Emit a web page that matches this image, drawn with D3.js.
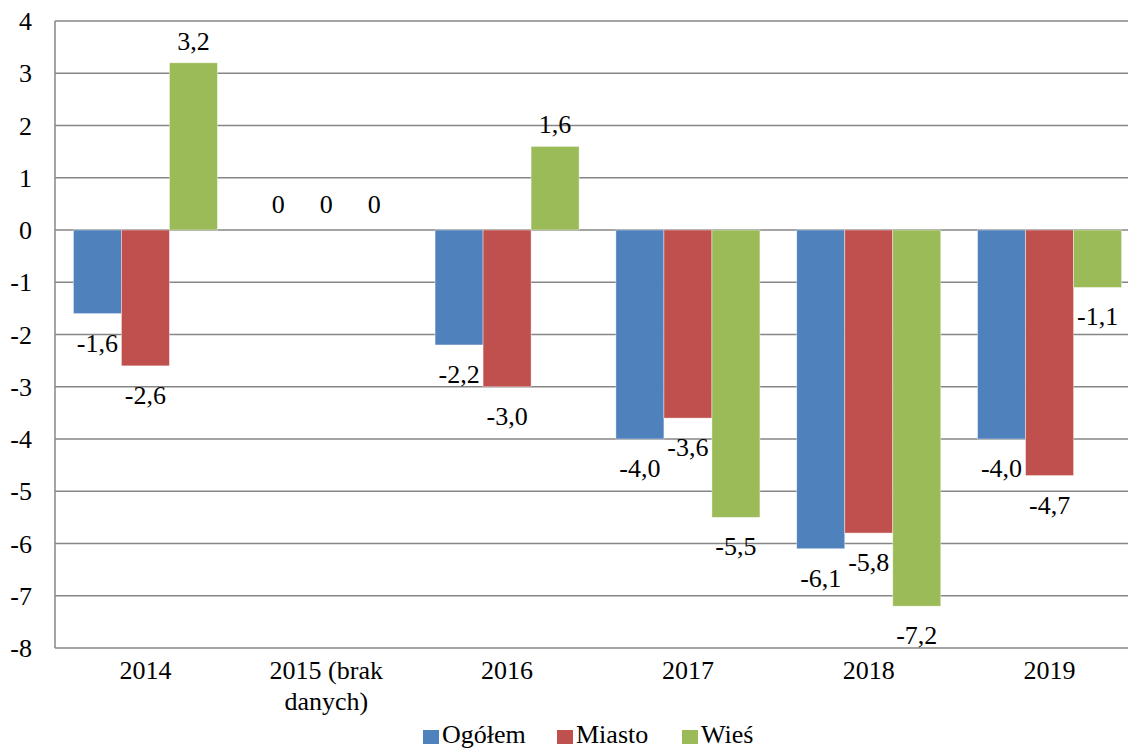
<!DOCTYPE html>
<html>
<head>
<meta charset="utf-8">
<script src="https://cdn.jsdelivr.net/npm/d3@7"></script>
<style>
  body { margin: 0; background: #fff; }
</style>
</head>
<body>
<div id="chart"></div>
<script>
const categories = ["2014", "2015 (brak danych)", "2016", "2017", "2018", "2019"];
const seriesNames = ["Ogółem", "Miasto", "Wieś"];
const ogolem = [-1.6, 0, -2.2, -4.0, -6.1, -4.0];
const miasto = [-2.6, 0, -3.0, -3.6, -5.8, -4.7];
const wies = [3.2, 0, 1.6, -5.5, -7.2, -1.1];
const colors = ["#4F81BD", "#C0504D", "#9BBB59"];
const yTicks = [4, 3, 2, 1, 0, -1, -2, -3, -4, -5, -6, -7, -8];

const width = 1128, height = 751;
const fontSize = 26;
const font = "'Liberation Serif', Tinos, 'Times New Roman', serif";

// plot area runs a bit past the right edge, like the original crop
const margin = { left: 55, right: -12, top: 21, bottom: 103 };

const svg = d3.select("#chart").append("svg")
  .attr("width", width)
  .attr("height", height)
  .style("font-family", font);

const x0 = d3.scaleBand()
  .domain(categories)
  .range([margin.left, width - margin.right])
  .paddingInner(0.2035)
  .paddingOuter(0.1018);

const x1 = d3.scaleBand()
  .domain(seriesNames)
  .range([0, x0.bandwidth()]);

const y = d3.scaleLinear()
  .domain([-8, 4])
  .range([height - margin.bottom, margin.top]);

const plotRight = width - margin.right;

function txt(sel) {
  return sel.style("font-family", font)
    .style("font-size", fontSize + "px")
    .attr("fill", "#000");
}

// gridlines
svg.append("g")
  .selectAll("line")
  .data(yTicks)
  .enter().append("line")
  .attr("x1", margin.left)
  .attr("x2", plotRight)
  .attr("y1", d => y(d))
  .attr("y2", d => y(d))
  .attr("stroke", "#868686")
  .attr("stroke-width", 1.5);

// left axis line
svg.append("line")
  .attr("x1", margin.left).attr("x2", margin.left)
  .attr("y1", y(4)).attr("y2", y(-8))
  .attr("stroke", "#868686")
  .attr("stroke-width", 1.5);

// y labels
svg.append("g")
  .selectAll("text")
  .data(yTicks)
  .enter().append("text")
  .attr("x", 32)
  .attr("y", d => y(d) + 9)
  .attr("text-anchor", "end")
  .call(txt)
  .text(d => d);

const rows = categories.map((c, i) => ({
  cat: c,
  values: [ogolem[i], miasto[i], wies[i]].map((v, j) => ({ key: seriesNames[j], value: v, idx: j }))
}));

const groups = svg.append("g")
  .selectAll("g")
  .data(rows)
  .enter().append("g")
  .attr("transform", d => "translate(" + x0(d.cat) + ",0)");

groups.selectAll("rect")
  .data(d => d.values)
  .enter().append("rect")
  .attr("x", d => x1(d.key))
  .attr("width", x1.bandwidth())
  .attr("y", d => y(Math.max(0, d.value)))
  .attr("height", d => Math.abs(y(d.value) - y(0)))
  .attr("fill", d => colors[d.idx])
  .attr("stroke", "#fff")
  .attr("stroke-opacity", 0.5)
  .attr("stroke-width", 0.8);

function fmt(v) {
  if (v === 0) return "0";
  return v.toFixed(1).replace(".", ",");
}

// value labels, outside the bar end
groups.selectAll("text.lbl")
  .data(d => d.values)
  .enter().append("text")
  .attr("class", "lbl")
  .attr("x", d => x1(d.key) + x1.bandwidth() / 2)
  .attr("y", d => d.value > 0 ? y(d.value) - 13 : d.value === 0 ? y(0) - 17.5 : y(d.value) + 38)
  .attr("text-anchor", "middle")
  .call(txt)
  .text(d => fmt(d.value));

// category labels
const catG = svg.append("g");
categories.forEach(c => {
  const cx = x0(c) + x0.bandwidth() / 2;
  let lines = [c];
  if (c.indexOf("(") > 0) lines = ["2015 (brak", "danych)"];
  const t = catG.append("text")
    .attr("text-anchor", "middle")
    .call(txt);
  lines.forEach((l, k) => {
    t.append("tspan")
      .attr("x", cx)
      .attr("y", y(-8) + 31 + k * 31)
      .text(l);
  });
});

// legend
const legendX = [423, 557, 682];
const legend = svg.append("g");
seriesNames.forEach((s, i) => {
  legend.append("rect")
    .attr("x", legendX[i])
    .attr("y", 730)
    .attr("width", 16)
    .attr("height", 14)
    .attr("fill", colors[i]);
  legend.append("text")
    .attr("x", legendX[i] + 19)
    .attr("y", 743)
    .call(txt)
    .text(s);
});
</script>
</body>
</html>
